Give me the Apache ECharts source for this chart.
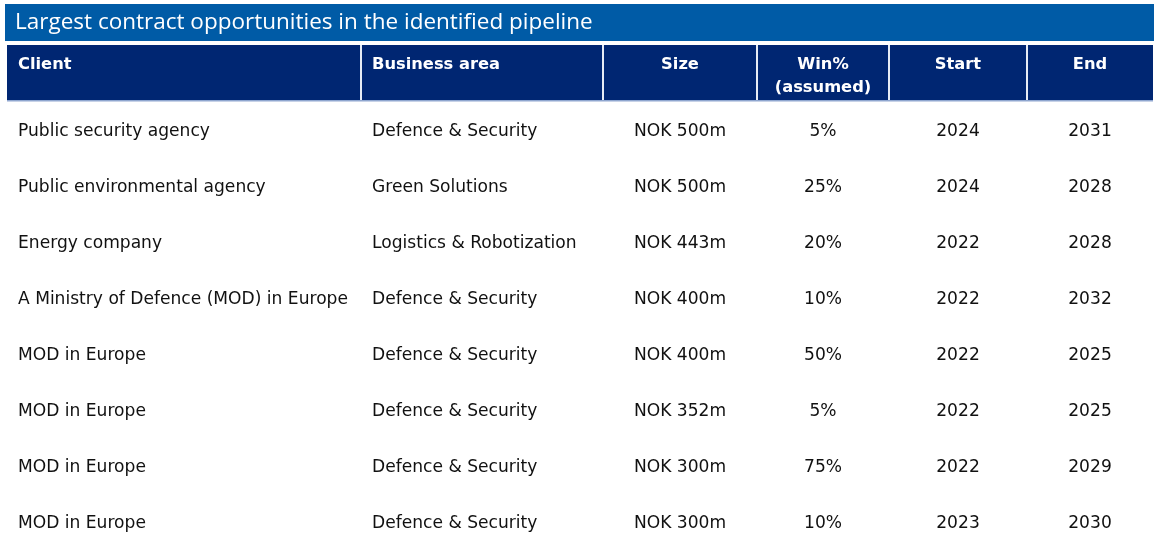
<!DOCTYPE html>
<html><head><meta charset="utf-8">
<script src="https://cdn.jsdelivr.net/npm/echarts@6/dist/echarts.min.js"></script>
<style>html,body{margin:0;padding:0;background:#fff}#c{width:1160px;height:556px}</style>
</head><body><div id="c"></div>
<script>
const title = 'Largest contract opportunities in the identified pipeline';
const headers = ['Client', 'Business area', 'Size', 'Win%\n(assumed)', 'Start', 'End'];
const clients = ['Public security agency', 'Public environmental agency', 'Energy company', 'A Ministry of Defence (MOD) in Europe', 'MOD in Europe', 'MOD in Europe', 'MOD in Europe', 'MOD in Europe'];
const areas = ['Defence & Security', 'Green Solutions', 'Logistics & Robotization', 'Defence & Security', 'Defence & Security', 'Defence & Security', 'Defence & Security', 'Defence & Security'];
const sizes = ['NOK 500m', 'NOK 500m', 'NOK 443m', 'NOK 400m', 'NOK 400m', 'NOK 352m', 'NOK 300m', 'NOK 300m'];
const winPct = ['5%', '25%', '20%', '10%', '50%', '5%', '75%', '10%'];
const starts = ['2024', '2024', '2022', '2022', '2022', '2022', '2022', '2023'];
const ends = ['2031', '2028', '2028', '2032', '2025', '2025', '2029', '2030'];

const colEdges = [7, 361, 603, 757, 889, 1027, 1153];
const colAlign = ['left', 'left', 'center', 'center', 'center', 'center'];
const headerTop = 45, headerBottom = 100;
const rowY0 = 132, rowStep = 55.9;
const bodyFont = '"DejaVu Sans", sans-serif';

const chart = echarts.init(document.getElementById('c'), null, {renderer: 'canvas'});
const els = [];
els.push({type: 'rect', shape: {x: 5, y: 4, width: 1149, height: 37}, style: {fill: '#005BA6'}});
els.push({type: 'text', x: 15, y: 23, style: {text: title, fill: '#fff', font: '22.5px "Open Sans", sans-serif', textVerticalAlign: 'middle'}});
els.push({type: 'rect', shape: {x: 7, y: headerTop, width: 1146, height: headerBottom - headerTop}, style: {fill: '#002672'}});
for (let i = 1; i < colEdges.length - 1; i++) {
  els.push({type: 'rect', shape: {x: colEdges[i] - 1, y: headerTop, width: 2, height: headerBottom - headerTop}, style: {fill: '#E6ECF5'}});
}
els.push({type: 'rect', shape: {x: 7, y: headerBottom, width: 1146, height: 1.5}, style: {fill: '#8FA6CF'}});
function cellX(c) {
  return colAlign[c] === 'left' ? colEdges[c] + 11 : (colEdges[c] + colEdges[c + 1]) / 2;
}
headers.forEach((h, c) => {
  els.push({type: 'text', x: cellX(c), y: 53, style: {text: h, fill: '#fff', font: 'bold 16.3px "DejaVu Sans", sans-serif', textAlign: colAlign[c], lineHeight: 23}});
});
const cols = [clients, areas, sizes, winPct, starts, ends];
clients.forEach((_, r) => {
  const y = rowY0 + r * rowStep;
  cols.forEach((arr, c) => {
    els.push({type: 'text', x: cellX(c), y: y, style: {text: arr[r], fill: '#111', font: '17.1px ' + bodyFont, textAlign: colAlign[c], textVerticalAlign: 'middle'}});
  });
});
chart.setOption({animation: false, graphic: {elements: els}});
</script></body></html>
